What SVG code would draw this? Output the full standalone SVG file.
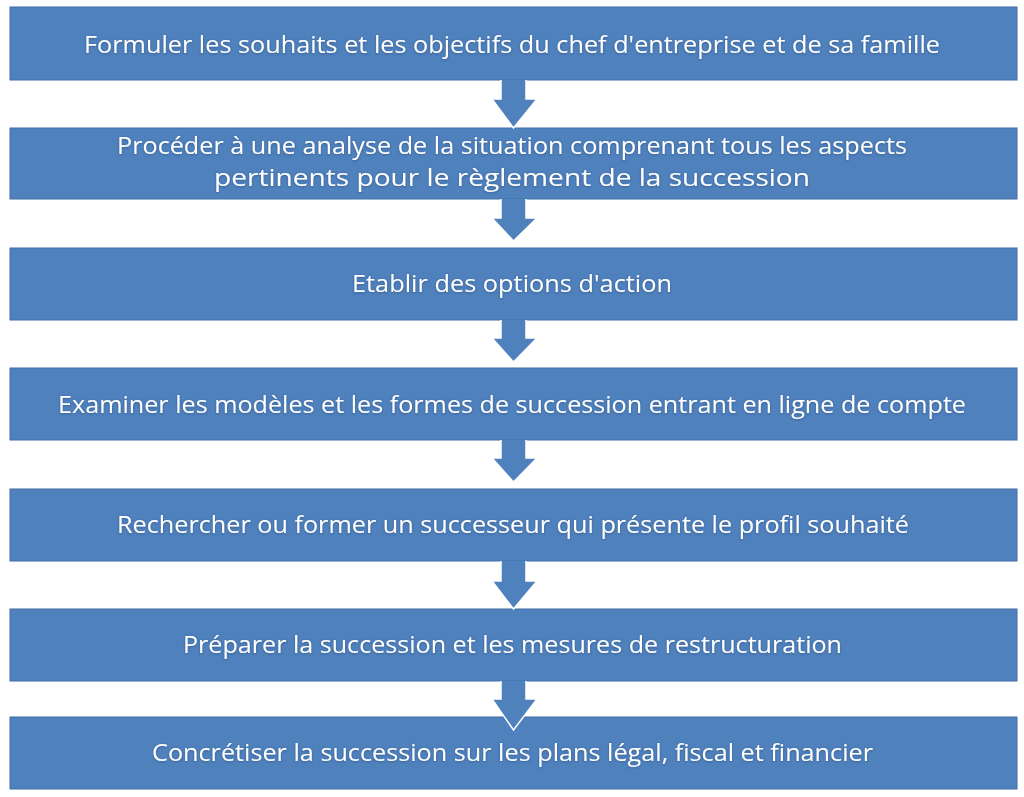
<svg xmlns="http://www.w3.org/2000/svg" width="1024" height="797" viewBox="0 0 1024 797">
  <defs>
    <style>
      .box { fill: #4F81BD; stroke: #3F6FA6; stroke-width: 1; }
      .arrow { fill: #4F81BD; stroke: #FFFFFF; stroke-width: 1.5; stroke-linejoin: miter; }
      .lbl { font-family: "Open Sans", "Liberation Sans", sans-serif; font-size: 23px; fill: #FFFFFF; text-anchor: middle; }
    </style>
    <filter id="glow" x="-5%" y="-30%" width="110%" height="160%">
      <feDropShadow dx="0" dy="0.6" stdDeviation="0.8" flood-color="#1E3A5F" flood-opacity="0.55"/>
    </filter>
  </defs>
  <rect width="1024" height="797" fill="#FFFFFF"/>

  <g id="node1">
    <rect class="box" x="10" y="7" width="1007" height="73"/>
    <text class="lbl" x="512" y="53" textLength="856" lengthAdjust="spacingAndGlyphs" filter="url(#glow)">Formuler les souhaits et les objectifs du chef d'entreprise et de sa famille</text>
  </g>
  <g id="node2">
    <rect class="box" x="10" y="128" width="1007" height="71"/>
    <text class="lbl" x="512" y="154" textLength="790" lengthAdjust="spacingAndGlyphs" filter="url(#glow)">Procéder à une analyse de la situation comprenant tous les aspects</text>
    <text class="lbl" x="512" y="186" textLength="596" lengthAdjust="spacingAndGlyphs" filter="url(#glow)">pertinents pour le règlement de la succession</text>
  </g>
  <g id="node3">
    <rect class="box" x="10" y="248" width="1007" height="72"/>
    <text class="lbl" x="512" y="292" textLength="320" lengthAdjust="spacingAndGlyphs" filter="url(#glow)">Etablir des options d'action</text>
  </g>
  <g id="node4">
    <rect class="box" x="10" y="368" width="1007" height="72"/>
    <text class="lbl" x="512" y="413" textLength="908" lengthAdjust="spacingAndGlyphs" filter="url(#glow)">Examiner les modèles et les formes de succession entrant en ligne de compte</text>
  </g>
  <g id="node5">
    <rect class="box" x="10" y="489" width="1007" height="72"/>
    <text class="lbl" x="513" y="533" textLength="792" lengthAdjust="spacingAndGlyphs" filter="url(#glow)">Rechercher ou former un successeur qui présente le profil souhaité</text>
  </g>
  <g id="node6">
    <rect class="box" x="10" y="609" width="1007" height="72"/>
    <text class="lbl" x="512.5" y="653" textLength="659" lengthAdjust="spacingAndGlyphs" filter="url(#glow)">Préparer la succession et les mesures de restructuration</text>
  </g>
  <g id="node7">
    <rect class="box" x="10" y="717" width="1007" height="72"/>
    <text class="lbl" x="512.5" y="761" textLength="721" lengthAdjust="spacingAndGlyphs" filter="url(#glow)">Concrétiser la succession sur les plans légal, fiscal et financier</text>
  </g>

  <g id="connectors">
    <path class="arrow" d="M501,80 V99 H492 L513.5,128 L537,99 H526 V80"/>
    <path class="arrow" d="M501,199 V218 H492 L513.5,241 L537,218 H526 V199"/>
    <path class="arrow" d="M501,320 V338 H492 L513.5,362 L537,338 H526 V320"/>
    <path class="arrow" d="M501,440 V458 H492 L513.5,482 L537,458 H526 V440"/>
    <path class="arrow" d="M501,561 V581 H492 L513.5,609 L537,581 H526 V561"/>
    <path class="arrow" d="M501,681 V699 H492 L513.5,730 L537,699 H526 V681"/>
  </g>
</svg>
